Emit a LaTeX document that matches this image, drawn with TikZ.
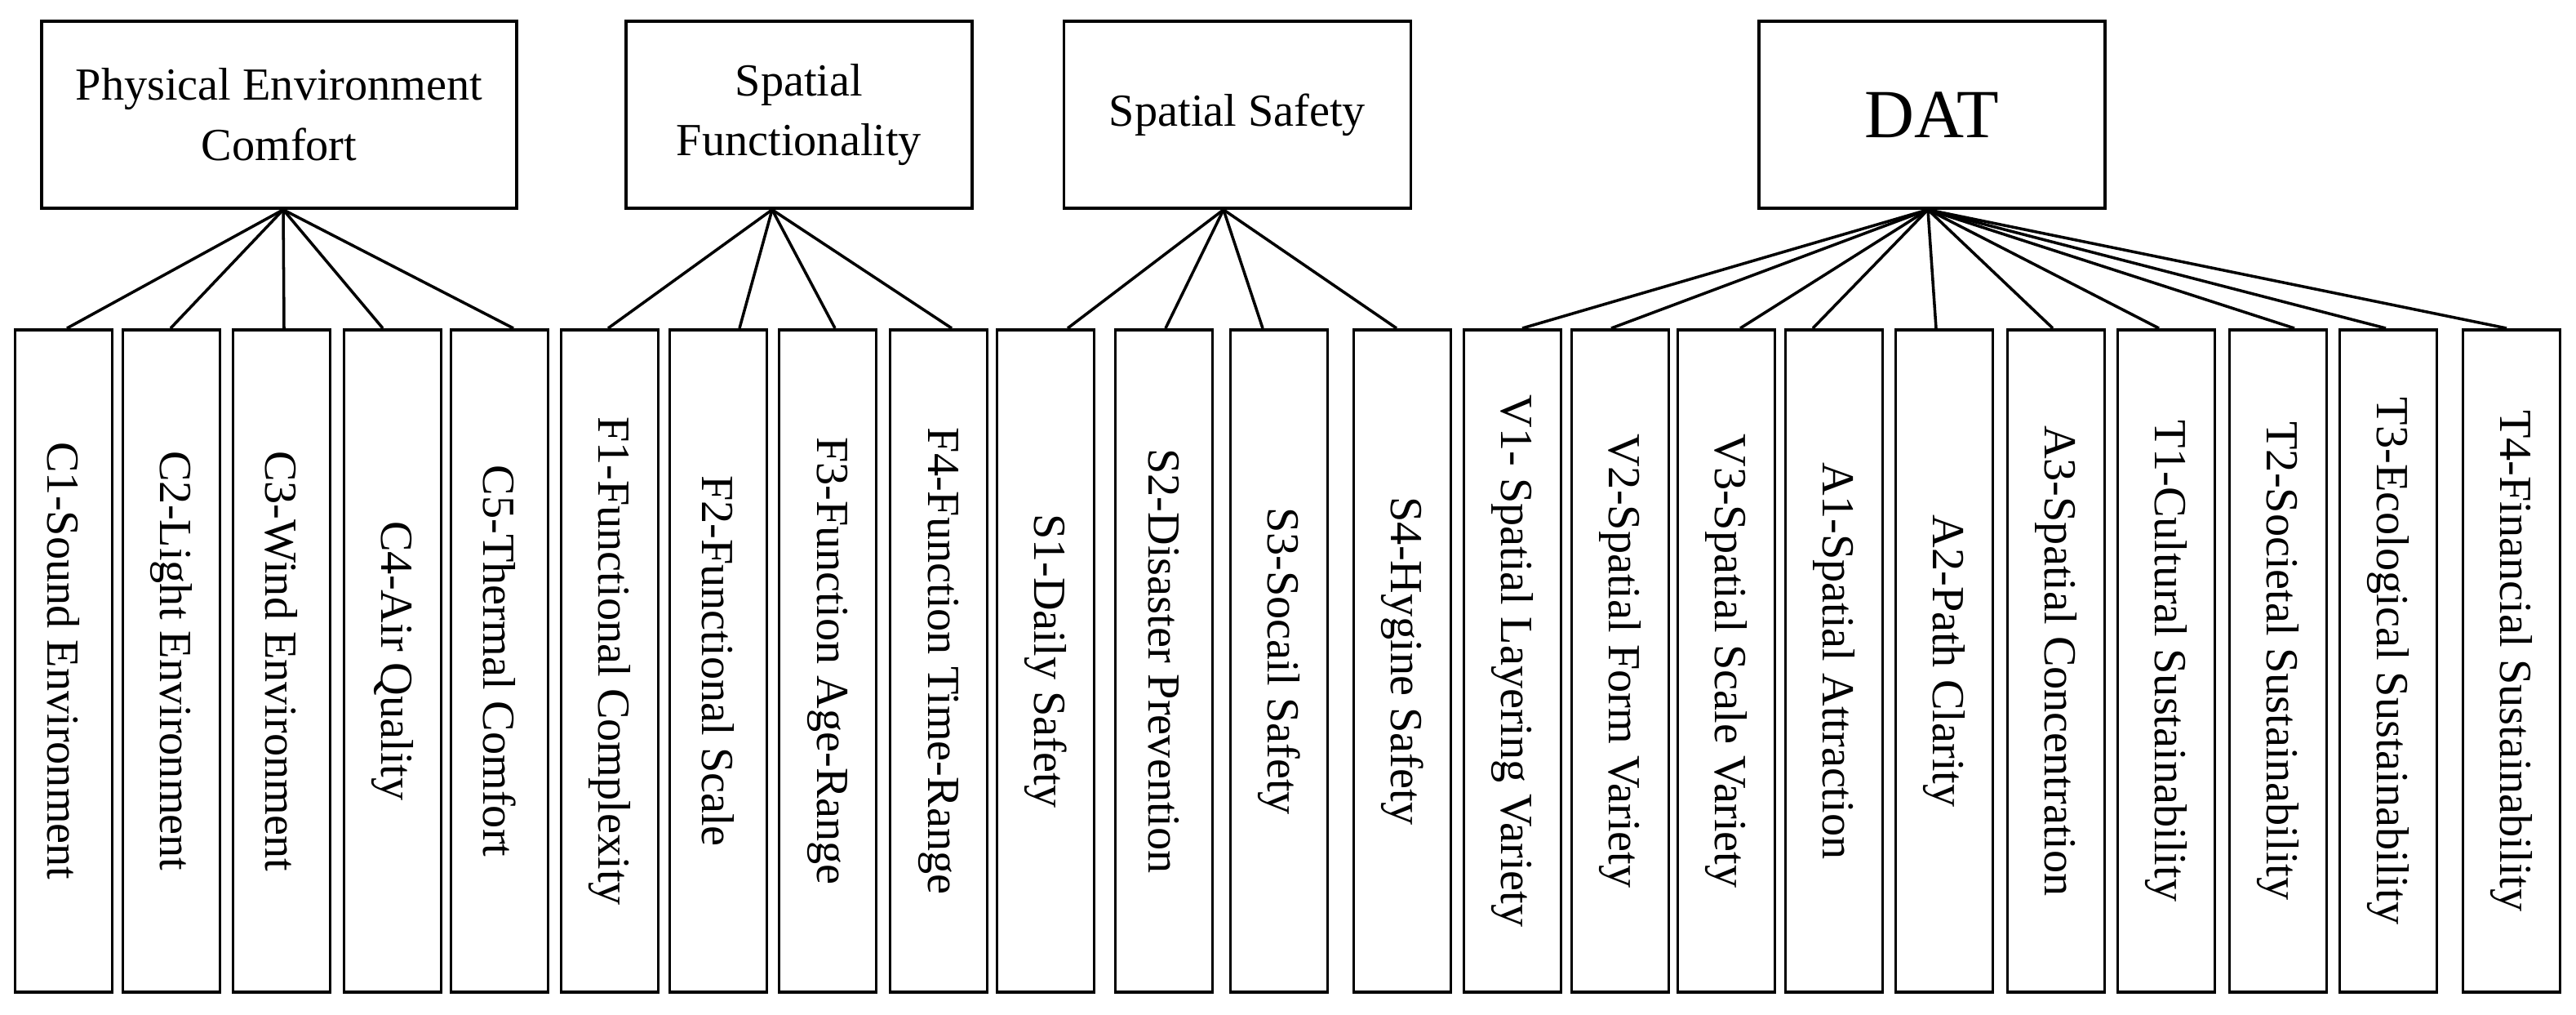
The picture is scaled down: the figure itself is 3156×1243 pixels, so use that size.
\documentclass[tikz,border=0pt]{standalone}
\usepackage{fontspec}
\setmainfont{Liberation Serif}
\begin{document}
\begin{tikzpicture}[x=0.01cm,y=-0.01cm,
  top/.style={draw,line width=1pt,minimum height=2.29cm,align=center,font=\fontsize{16}{21}\selectfont,inner sep=0pt},
  leaf/.style={draw,line width=1pt,rotate=-90,minimum width=8.11cm,minimum height=1.19cm,inner sep=0pt,font=\fontsize{16}{19}\selectfont},
  link/.style={line width=1pt}]
\useasboundingbox (0,0) rectangle (3156,1243);
\node[top,minimum width=5.82cm] (pec) at (342,140.5) {Physical Environment\\Comfort};
\node[top,minimum width=4.24cm] (sf) at (979,140.5) {Spatial\\Functionality};
\node[top,minimum width=4.25cm] (ss) at (1516,140.5) {Spatial Safety};
\node[top,minimum width=4.24cm,font=\fontsize{24}{28}\selectfont] (dat) at (2367,140.5) {DAT};
\foreach \n/\x/\t in {c1/78/C1-Sound Environment,c2/210/C2-Light Environment,c3/345/C3-Wind Environment,c4/481/C4-Air Quality,c5/612/C5-Thermal Comfort,
 f1/747/F1-Functional Complexity,f2/880/F2-Functional Scale,f3/1014/F3-Function Age-Range,f4/1150/F4-Function Time-Range,
 s1/1281/S1-Daily Safety,s2/1426/S2-Disaster Prevention,s3/1567/S3-Socail Safety,s4/1718/S4-Hygine Safety,
 v1/1853/V1- Spatial Layering Variety,v2/1985/V2-Spatial Form Variety,v3/2115/V3-Spatial Scale Variety,a1/2247/A1-Spatial Attraction,a2/2382/A2-Path Clarity,a3/2519/A3-Spatial Concentration,
 t1/2654/T1-Cultural Sustainability,t2/2791/T2-Societal Sustainability,t3/2926/T3-Ecological Sustainability,t4/3077/T4-Financial Sustainability}
  \node[leaf] (\n) at (\x,809.5) {\t};
\foreach \n/\d in {c1/0.4,c2/-0.1,c3/0.3,c4/-1.2,c5/1.7}
  \draw[link] ([xshift=0.5mm]pec.south) -- ([xshift=\d mm]\n.west);
\foreach \n/\d in {f1/-0.2,f2/2.6,f3/0.9,f4/1.6}
  \draw[link] ([xshift=-3.3mm]sf.south) -- ([xshift=\d mm]\n.west);
\foreach \n/\d in {s1/2.7,s2/0.2,s3/-2,s4/-0.7}
  \draw[link] ([xshift=-1.7mm]ss.south) -- ([xshift=\d mm]\n.west);
\foreach \n/\d in {v1/1.2,v2/-1.1,v3/1.7,a1/-2.6,a2/-1,a3/-0.4,t1/-0.9,t2/2,t3/-0.3,t4/-0.6}
  \draw[link] ([xshift=-0.5mm]dat.south) -- ([xshift=\d mm]\n.west);
\end{tikzpicture}
\end{document}
